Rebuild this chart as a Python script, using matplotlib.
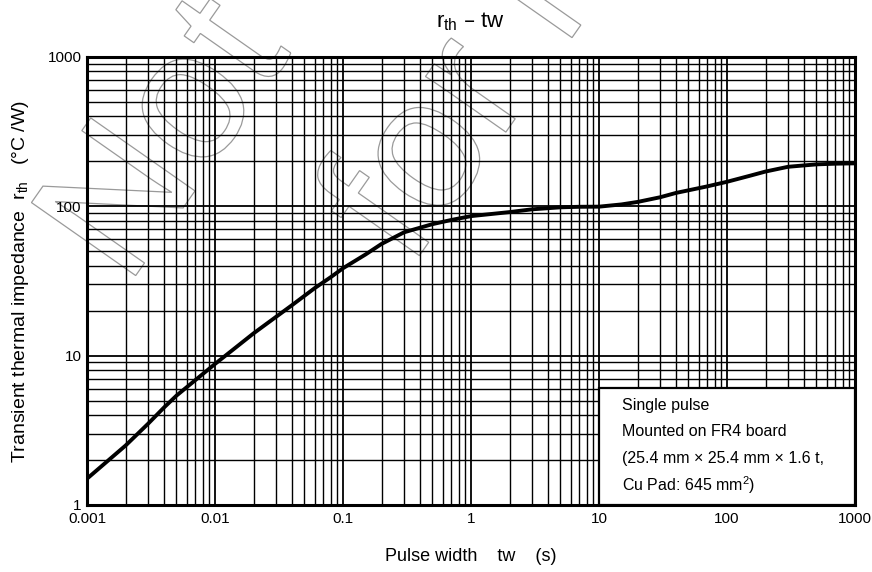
import numpy as np
import matplotlib
matplotlib.use('Agg')
import matplotlib.pyplot as plt
from matplotlib.ticker import LogLocator, NullFormatter
from matplotlib.patches import Rectangle, PathPatch
from matplotlib.textpath import TextPath
from matplotlib.font_manager import FontProperties
from matplotlib.transforms import Affine2D

plt.rcParams['font.family'] = ['Liberation Sans', 'DejaVu Sans']

# rth - tw curve
tw = [0.001, 0.002, 0.003, 0.004, 0.005, 0.01, 0.02, 0.03, 0.04, 0.06, 0.08, 0.1,
      0.15, 0.2, 0.3, 0.5, 0.7, 1, 2, 3, 5, 7, 10, 15, 20, 30, 40, 70, 100, 150,
      200, 300, 500, 700, 1000]
rth = [1.5, 2.5, 3.5, 4.5, 5.4, 8.8, 14.1, 18.2, 21.8, 28.3, 33.5, 38.5,
       47.6, 56, 67, 76, 81, 86, 91.5, 95.5, 98.5, 99.3, 99.5, 103, 107, 115, 123, 136, 146, 160,
       171, 184, 191, 193, 194]

xticks = [0.001, 0.01, 0.1, 1, 10, 100, 1000]
xticklabels = ['0.001', '0.01', '0.1', '1', '10', '100', '1000']
yticks = [1, 10, 100, 1000]
yticklabels = ['1', '10', '100', '1000']

# condition box (lower right corner, data coords)
box_x = [10, 1000]
box_y = [1, 6.07]
box_lines = ['Single pulse',
             'Mounted on FR4 board',
             '(25.4 mm \u00d7 25.4 mm \u00d7 1.6 t,',
             'Cu Pad: 645 mm$\\mathregular{^2}$)']

fig = plt.figure(figsize=(8.72, 5.72), dpi=100)
ax = fig.add_axes([87 / 872, 67 / 572, 768 / 872, 448 / 572])
ax.set_facecolor('none')

ax.set_xscale('log')
ax.set_yscale('log')
ax.set_xlim(1e-3, 1e3)
ax.set_ylim(1, 1e3)
ax.xaxis.set_minor_locator(LogLocator(base=10, subs=np.arange(2, 10), numticks=100))
ax.yaxis.set_minor_locator(LogLocator(base=10, subs=np.arange(2, 10), numticks=100))
ax.xaxis.set_minor_formatter(NullFormatter())
ax.yaxis.set_minor_formatter(NullFormatter())
ax.set_xticks(xticks, xticklabels)
ax.set_yticks(yticks, yticklabels)
ax.tick_params(which='both', length=0, labelsize=11, colors='black')
ax.tick_params(axis='x', pad=5)
ax.tick_params(axis='y', pad=4)

ax.grid(True, which='major', color='black', lw=1.3)
ax.grid(True, which='minor', color='black', lw=1.0)
ax.set_axisbelow(True)
for s in ax.spines.values():
    s.set_linewidth(2.2)

ax.plot(tw, rth, color='black', lw=2.8, zorder=4, solid_capstyle='butt')

ax.add_patch(Rectangle((box_x[0], box_y[0]), box_x[1] - box_x[0], box_y[1] - box_y[0],
                       facecolor='white', edgecolor='black', lw=1.6, zorder=3))
line_y = [0.223, 0.1636, 0.1027, 0.0446]
for t, yy in zip(box_lines, line_y):
    ax.text(0.6966, yy, t, transform=ax.transAxes, fontsize=11.5, va='center', ha='left', zorder=5)

ax.set_title('$\\mathregular{r_{th}}$ \u2013 tw', fontsize=16, pad=21)
ax.set_xlabel('Pulse width    tw    (s)', fontsize=13, labelpad=16)
ax.set_ylabel('Transient thermal impedance  $\\mathregular{r_{th}}$   (\u00b0C /W)',
              fontsize=14, labelpad=12)

# outlined watermark behind the chart
fp = FontProperties(family='Liberation Sans')
wm = [('Not Recommended', 1.27, 2.84), ('for New Design', 4.1, 3.03)]
for s, x0, y0 in wm:
    tp = TextPath((0, 0), s, size=1.85, prop=fp)
    tr = Affine2D().rotate_deg(55).translate(x0, y0) + fig.dpi_scale_trans
    fig.add_artist(PathPatch(tp, transform=tr, facecolor='none', edgecolor='#9a9a9a',
                             lw=0.9, zorder=-1))

fig.savefig('out.png', dpi=100, facecolor='white')
